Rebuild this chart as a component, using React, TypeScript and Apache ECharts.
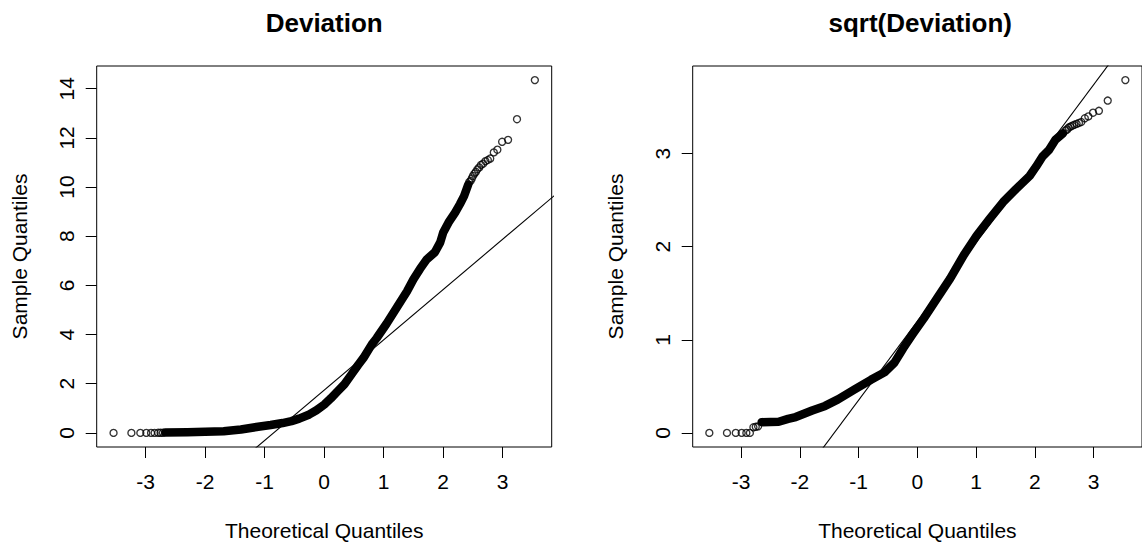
import React, { useEffect, useRef } from "react";
import * as echarts from "echarts";

// ---- tick labels ----
const xTicks = [-3, -2, -1, 0, 1, 2, 3];
const devYTicks = [0, 2, 4, 6, 8, 10, 12, 14];
const sqrtYTicks = [0, 1, 2, 3];

// ---- Left panel: Deviation (theoretical quantile, sample value) ----
const devLowTheo = [-3.54, -3.24, -3.09, -2.99, -2.91, -2.85, -2.79, -2.75, -2.71];
const devLowVal = [0, 0, 0, 0, 0, 0, 0.004, 0.005, 0.005];
const devBandTheo = [
  -2.67, -2.3, -2.0, -1.69, -1.4, -1.11, -0.9, -0.7, -0.55, -0.42, -0.25, -0.13, 0.0, 0.11, 0.22,
  0.34, 0.45, 0.57, 0.66, 0.8, 0.88, 1.05, 1.22, 1.39, 1.5, 1.61, 1.72, 1.86, 1.95, 2.0, 2.09, 2.2,
  2.28, 2.35, 2.42,
];
const devBandVal = [
  0.02, 0.03, 0.05, 0.07, 0.14, 0.25, 0.32, 0.4, 0.48, 0.58, 0.75, 0.92, 1.15, 1.4, 1.68, 1.98, 2.35,
  2.76, 3.05, 3.6, 3.85, 4.45, 5.1, 5.75, 6.25, 6.67, 7.05, 7.35, 7.75, 8.15, 8.56, 8.96, 9.3, 9.63,
  10.1,
];
const devHighTheo = [
  3.54, 3.24, 3.09, 2.99, 2.91, 2.85, 2.79, 2.75, 2.71, 2.67, 2.636, 2.605, 2.575, 2.549, 2.525, 2.5,
  2.48, 2.46, 2.437,
];
const devHighVal = [
  14.35, 12.76, 11.92, 11.84, 11.52, 11.41, 11.16, 11.1, 11.05, 10.95, 10.9, 10.8, 10.72, 10.62,
  10.55, 10.45, 10.35, 10.25, 10.2,
];
const devQuartiles = [0.36, 3.12];

// ---- Right panel: sqrt(Deviation) ----
const sqLowTheo = [-3.54, -3.24, -3.09, -2.99, -2.91, -2.85, -2.79, -2.75, -2.71];
const sqLowVal = [0, 0, 0, 0, 0, 0, 0.06, 0.065, 0.07];
const sqBandTheo = [
  -2.65, -2.36, -2.2, -2.07, -1.79, -1.57, -1.35, -1.06, -0.79, -0.56, -0.39, -0.24, -0.08, 0.11,
  0.34, 0.56, 0.79, 1.01, 1.23, 1.46, 1.68, 1.91, 2.02, 2.13, 2.24, 2.35, 2.48,
];
const sqBandVal = [
  0.115, 0.12, 0.15, 0.17, 0.24, 0.29, 0.36, 0.47, 0.57, 0.65, 0.755, 0.91, 1.06, 1.23, 1.45, 1.66,
  1.91, 2.12, 2.3, 2.48, 2.62, 2.76, 2.86, 2.97, 3.04, 3.15, 3.22,
];
const sqHighTheo = [
  3.54, 3.24, 3.09, 2.99, 2.91, 2.85, 2.79, 2.75, 2.71, 2.67, 2.636, 2.605, 2.575, 2.549, 2.525,
];
const sqHighVal = [
  3.79, 3.57, 3.46, 3.44, 3.4, 3.38, 3.34, 3.33, 3.32, 3.31, 3.3, 3.29, 3.28, 3.26, 3.25,
];
const sqQuartiles = [0.627, 1.77];

const FONT = "'Liberation Sans', Arial, Helvetica, sans-serif";
const Z25 = 0.6745;

function ext(v: number[]): [number, number] {
  const mn = Math.min(...v);
  const mx = Math.max(...v);
  const d = (mx - mn) * 0.04;
  return [mn - d, mx + d];
}

function panel(
  idx: number,
  lowT: number[],
  lowV: number[],
  bandT: number[],
  bandV: number[],
  highT: number[],
  highV: number[],
  quart: number[],
  yTicks: number[]
) {
  const xr = ext([...lowT, ...bandT, ...highT]);
  const yr = ext([...lowV, ...bandV, ...highV]);
  const slope = (quart[1] - quart[0]) / (2 * Z25);
  const inter = quart[0] + slope * Z25;
  const x0 = xr[0] - 1;
  const x1 = xr[1] + 1;
  const xAxis = {
    type: "value",
    gridIndex: idx,
    min: xr[0],
    max: xr[1],
    axisLine: { show: false, onZero: false },
    splitLine: { show: false },
    axisTick: {
      show: true,
      customValues: xTicks,
      length: 11,
      inside: false,
      lineStyle: { color: "#000", width: 1 },
    },
    axisLabel: {
      customValues: xTicks,
      margin: 24,
      fontSize: 21,
      fontFamily: FONT,
      color: "#000",
    },
    name: "Theoretical Quantiles",
    nameLocation: "middle",
    nameGap: 73,
    nameTextStyle: { fontSize: 21, fontFamily: FONT, color: "#000" },
  };
  const yAxis = {
    type: "value",
    gridIndex: idx,
    min: yr[0],
    max: yr[1],
    axisLine: { show: false, onZero: false },
    splitLine: { show: false },
    axisTick: {
      show: true,
      customValues: yTicks,
      length: 11,
      inside: false,
      lineStyle: { color: "#000", width: 1 },
    },
    axisLabel: {
      customValues: yTicks,
      rotate: 90,
      margin: 20,
      fontSize: 21,
      fontFamily: FONT,
      color: "#000",
    },
    name: "Sample Quantiles",
    nameLocation: "middle",
    nameRotate: 90,
    nameGap: 67,
    nameTextStyle: { fontSize: 21, fontFamily: FONT, color: "#000" },
  };
  const series = [
    {
      type: "line",
      xAxisIndex: idx,
      yAxisIndex: idx,
      data: bandT.map((t, i) => [t, bandV[i]]),
      symbol: "none",
      silent: true,
      clip: true,
      lineStyle: { color: "#000", width: 8.5, cap: "round", join: "round" },
      z: 2,
    },
    {
      type: "scatter",
      xAxisIndex: idx,
      yAxisIndex: idx,
      data: [...lowT.map((t, i) => [t, lowV[i]]), ...highT.map((t, i) => [t, highV[i]])],
      symbol: "circle",
      symbolSize: 7,
      silent: true,
      itemStyle: { color: "rgba(0,0,0,0)", borderColor: "#000", borderWidth: 1.35 },
      z: 3,
    },
    {
      type: "line",
      xAxisIndex: idx,
      yAxisIndex: idx,
      data: [
        [x0, inter + slope * x0],
        [x1, inter + slope * x1],
      ],
      symbol: "none",
      silent: true,
      clip: true,
      lineStyle: { color: "#000", width: 1.1 },
      z: 4,
    },
  ];
  return { xAxis, yAxis, series };
}

export default function App() {
  const ref = useRef<HTMLDivElement>(null);
  useEffect(() => {
    const chart = echarts.init(ref.current!, null, { renderer: "svg" });
    const L = panel(0, devLowTheo, devLowVal, devBandTheo, devBandVal, devHighTheo, devHighVal, devQuartiles, devYTicks);
    const R = panel(1, sqLowTheo, sqLowVal, sqBandTheo, sqBandVal, sqHighTheo, sqHighVal, sqQuartiles, sqrtYTicks);
    const gridBase = {
      top: 66,
      width: 455,
      height: 383.3,
      show: true,
      borderColor: "#000",
      borderWidth: 1,
      backgroundColor: "transparent",
      containLabel: false,
    };
    chart.setOption({
      animation: false,
      backgroundColor: "#fff",
      grid: [
        { ...gridBase, left: 96.7 },
        { ...gridBase, left: 692.7 },
      ],
      xAxis: [L.xAxis, R.xAxis],
      yAxis: [L.yAxis, R.yAxis],
      series: [...L.series, ...R.series],
      graphic: [
        {
          type: "text",
          x: 324.2,
          y: 22.5,
          style: {
            text: "Deviation",
            font: `bold 26px ${FONT}`,
            fill: "#000",
            align: "center",
            verticalAlign: "middle",
            textAlign: "center",
            textVerticalAlign: "middle",
          },
        },
        {
          type: "text",
          x: 920.2,
          y: 22.5,
          style: {
            text: "sqrt(Deviation)",
            font: `bold 26px ${FONT}`,
            fill: "#000",
            align: "center",
            verticalAlign: "middle",
            textAlign: "center",
            textVerticalAlign: "middle",
          },
        },
      ],
    });
    return () => chart.dispose();
  }, []);
  return (
    <div
      ref={ref}
      style={{ position: "fixed", left: 0, top: 0, width: 1142, height: 546, background: "#fff" }}
    />
  );
}
